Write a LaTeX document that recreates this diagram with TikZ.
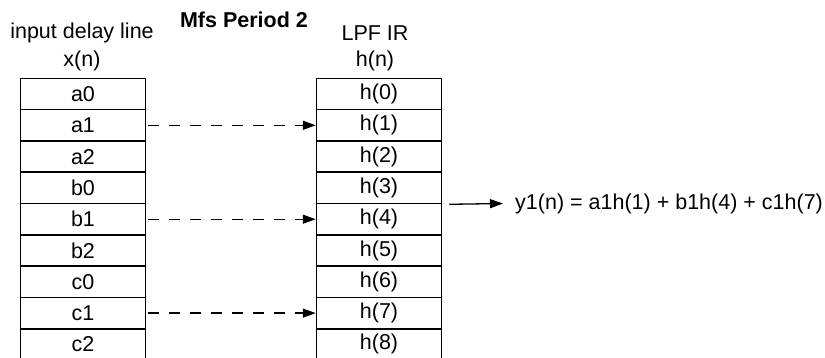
\documentclass[tikz,border=0pt]{standalone}
\usepackage{fontspec}
\setmainfont{Liberation Sans}
\usetikzlibrary{arrows.meta}
\begin{document}
\begin{tikzpicture}[x=1pt,y=-1pt,
  every node/.style={font=\fontsize{21.5}{25}\selectfont},
  cell/.style={draw, line width=1.5pt, minimum width=125pt, minimum height=31.3pt, inner sep=0pt},
  header/.style={inner sep=0pt},
  tapline/.style={line width=1.3pt, dash pattern=on 11pt off 10pt, shorten <=2pt,
    -{Triangle[length=13pt,width=9pt]}},
  outline/.style={line width=1.3pt, -{Triangle[length=13pt,width=9pt]}}]
  \useasboundingbox (0,0) rectangle (825,358);
  \clip (0,0) rectangle (825,358);

  % column headings
  \node[header] (title) at (244,20) {\bfseries Mfs Period 2};
  \node[header] (xhead1) at (82,33) {input delay line};
  \node[header] (xhead2) at (82,61) {x(n)};
  \node[header] (hhead1) at (375,33) {LPF IR};
  \node[header] (hhead2) at (375,61) {h(n)};

  % delay line and filter taps
  \foreach \lab [count=\i from 0] in {a0,a1,a2,b0,b1,b2,c0,c1,c2} {
    \node[cell] (L\i) at (83,{94+31.3*\i}) {\lab};
    \node[cell] (R\i) at (379,{94+31.3*\i}) {h(\i)};
  }

  % taps used in this period
  \draw[tapline] (L1.east) -- (R1.west);
  \draw[tapline] (L4.east) -- (R4.west);
  \draw[tapline] (L7.east) -- (R7.west);

  % output sum
  \node[header, anchor=west] (out) at (515,203.5) {y1(n) = a1h(1) + b1h(4) + c1h(7)};
  \coordinate (tap) at ([xshift=7pt]R3.south east);
  \draw[outline] (tap) -- ([xshift=-12pt]out.west);
\end{tikzpicture}
\end{document}
